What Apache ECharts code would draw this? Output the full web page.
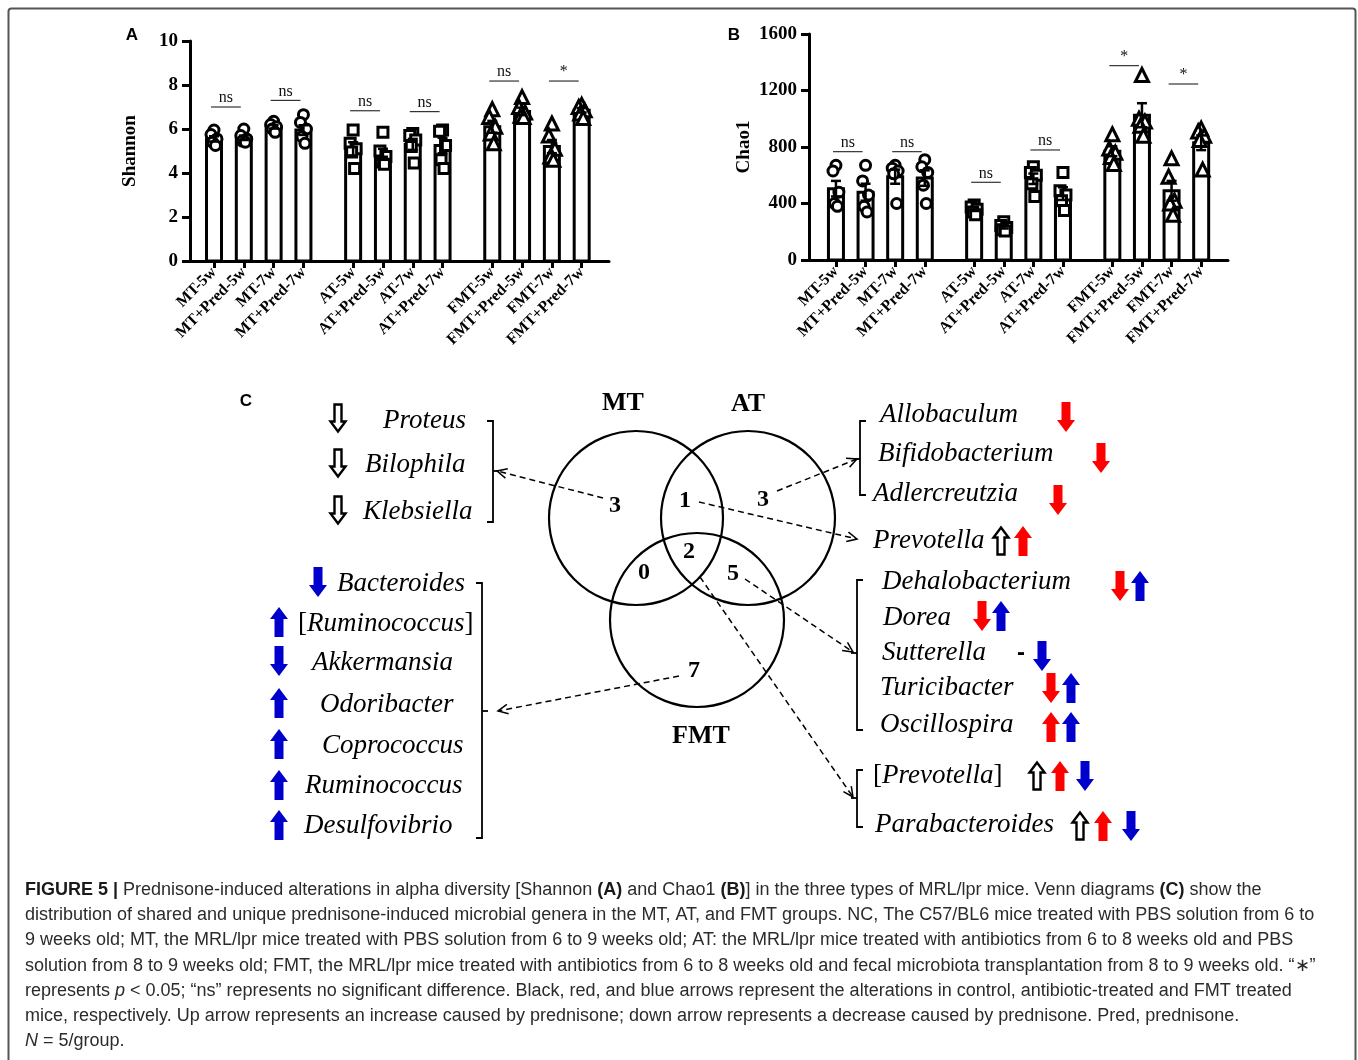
<!DOCTYPE html>
<html><head><meta charset="utf-8">
<script src="https://cdn.jsdelivr.net/npm/echarts@6/dist/echarts.min.js"></script>
<style>html,body{margin:0;padding:0;background:#fff}#c{width:1358px;height:1060px}</style>
</head><body><div id="c"></div>
<script>
// ---------------- DATA ----------------
const categories = ['MT-5w','MT+Pred-5w','MT-7w','MT+Pred-7w','AT-5w','AT+Pred-5w','AT-7w','AT+Pred-7w','FMT-5w','FMT+Pred-5w','FMT-7w','FMT+Pred-7w'];
const groupSymbols = ['circle','rect','triangle']; // MT, AT, FMT

const shannonTicks = [0,2,4,6,8,10];
const shannonMean = [5.55,5.6,6.1,5.95, 5.1,4.85,5.3,5.25, 6.1,6.8,5.2,6.85];
const shannonSem  = [0.12,0.1,0.08,0.22, 0.3,0.25,0.25,0.35, 0.27,0.17,0.3,0.1];
const shannonPoints = [
  [5.95,5.75,5.55,5.4,5.25],[6.0,5.7,5.55,5.45,5.4],[6.35,6.2,6.1,6.0,5.85],[6.65,6.3,6.0,5.65,5.35],
  [5.95,5.35,5.1,4.95,4.2],[5.85,5.0,4.75,4.5,4.4],[5.8,5.7,5.5,5.2,4.45],[5.95,5.9,5.25,4.6,4.2],
  [6.9,6.55,6.1,5.8,5.35],[7.45,7.0,6.75,6.6,6.55],[6.25,5.7,5.1,4.75,4.6],[7.1,7.0,6.85,6.7,6.5]
];
const shannonSigFirst = [0,2,4,6,8,10];
const shannonSigLevel = [7.0,7.3,6.83,6.79,8.18,8.18];
const shannonSigText  = ['ns','ns','ns','ns','ns','*'];

const chaoTicks = [0,400,800,1200,1600];
const chaoMean = [505,480,590,580, 360,235,575,470, 770,1025,490,830];
const chaoSem  = [55,60,50,55, 13,12,37,45, 35,85,70,52];
const chaoPoints = [
  [670,630,480,400,380],[670,560,460,380,340],[670,650,630,610,400],[710,660,620,530,400],
  [390,375,360,340,320],[270,245,230,215,205],[660,620,600,540,450],[620,490,460,420,350],
  [890,790,760,730,680],[1310,1000,980,950,880],[720,590,420,400,320],[930,910,880,850,640]
];
const chaoSigFirst = [0,2,4,6,8,10];
const chaoSigLevel = [767,767,550,779,1376,1246];
const chaoSigText  = ['ns','ns','ns','ns','*','*'];

// Venn (panel C)
const vennSets = ['MT','AT','FMT'];
const vennRegions = ['MT','MT∩AT','AT','MT∩AT∩FMT','MT∩FMT','AT∩FMT','FMT'];
const vennCounts = [3,1,3,2,0,5,7];
// change codes: colour k=control(black) r=antibiotic(red) b=FMT(blue); u=up d=down; '-' no change
const generaMT = ['Proteus','Bilophila','Klebsiella'];
const changesMT = [['kd'],['kd'],['kd']];
const generaFMT = ['Bacteroides','[Ruminococcus]','Akkermansia','Odoribacter','Coprococcus','Ruminococcus','Desulfovibrio'];
const changesFMT = [['bd'],['bu'],['bd'],['bu'],['bu'],['bu'],['bu']];
const generaAT = ['Allobaculum','Bifidobacterium','Adlercreutzia'];
const changesAT = [['rd'],['rd'],['rd']];
const generaMTAT = ['Prevotella'];
const changesMTAT = [['ku','ru']];
const generaATFMT = ['Dehalobacterium','Dorea','Sutterella','Turicibacter','Oscillospira'];
const changesATFMT = [['rd','bu'],['rd','bu'],['-','bd'],['rd','bu'],['ru','bu']];
const generaAll = ['[Prevotella]','Parabacteroides'];
const changesAll = [['ku','ru','bd'],['ku','ru','bd']];

const captionLines = [
  '{b|FIGURE 5 |} Prednisone-induced alterations in alpha diversity [Shannon {b|(A)} and Chao1 {b|(B)}] in the three types of MRL/lpr mice. Venn diagrams {b|(C)} show the',
  'distribution of shared and unique prednisone-induced microbial genera in the MT, AT, and FMT groups. NC, The C57/BL6 mice treated with PBS solution from 6 to',
  '9 weeks old; MT, the MRL/lpr mice treated with PBS solution from 6 to 9 weeks old; AT: the MRL/lpr mice treated with antibiotics from 6 to 8 weeks old and PBS',
  'solution from 8 to 9 weeks old; FMT, the MRL/lpr mice treated with antibiotics from 6 to 8 weeks old and fecal microbiota transplantation from 8 to 9 weeks old. “∗”',
  'represents {i|p} < 0.05; “ns” represents no significant difference. Black, red, and blue arrows represent the alterations in control, antibiotic-treated and FMT treated',
  'mice, respectively. Up arrow represents an increase caused by prednisone; down arrow represents a decrease caused by prednisone. Pred, prednisone.',
  '{i|N} = 5/group.'
];

// ---------------- LAYOUT ----------------
const GROUP_GAP = 0.667;
const pos = i => i + Math.floor(i / 4) * GROUP_GAP;
const positions = categories.map((c, i) => pos(i));
const jitter = [0, -0.1, 0.1, -0.05, 0.05];
const BAR_W = 15;
const SERIF = '"Liberation Serif","Times New Roman",serif';
const SANS = '"Liberation Sans",Arial,sans-serif';

function labelFor(v) {
  const i = positions.findIndex(p => Math.abs(p - v) < 1e-6);
  return i >= 0 ? categories[i] : '';
}

function panelSeries(gi, mean, sem, points, sigFirst, sigLevel, sigText) {
  const out = [];
  // bars (mean)
  out.push({
    type: 'custom', xAxisIndex: gi, yAxisIndex: gi, z: 2, silent: true,
    data: mean.map((m, i) => [pos(i), m]), encode: { x: 0, y: 1 },
    renderItem: (p, api) => {
      const t = api.coord([api.value(0), api.value(1)]), b = api.coord([api.value(0), 0]);
      return { type: 'rect', shape: { x: t[0] - BAR_W / 2, y: t[1], width: BAR_W, height: b[1] - t[1] },
        style: { fill: '#fff', stroke: '#000', lineWidth: 3 } };
    }
  });
  for (let g = 0; g < 3; g++) {
    const d = [];
    for (let i = g * 4; i < g * 4 + 4; i++) points[i].forEach((v, j) => d.push([pos(i) + jitter[j], v]));
    out.push({
      type: 'scatter', xAxisIndex: gi, yAxisIndex: gi, z: 3, data: d,
      symbol: groupSymbols[g], symbolSize: g === 2 ? 13 : 10,
      itemStyle: { color: '#fff', borderColor: '#000', borderWidth: 3, opacity: 1 }, silent: true
    });
  }
  out.push({
    type: 'custom', xAxisIndex: gi, yAxisIndex: gi, z: 4, silent: true,
    data: mean.map((m, i) => [pos(i), m, sem[i]]), encode: { x: 0, y: 1 },
    renderItem: (p, api) => {
      const x = api.value(0), m = api.value(1), s = api.value(2);
      const t = api.coord([x, m + s]), b = api.coord([x, m - s]);
      const st = { stroke: '#000', lineWidth: 2.5 };
      return { type: 'group', children: [
        { type: 'line', shape: { x1: t[0], y1: t[1], x2: b[0], y2: b[1] }, style: st },
        { type: 'line', shape: { x1: t[0] - 5, y1: t[1], x2: t[0] + 5, y2: t[1] }, style: st },
        { type: 'line', shape: { x1: b[0] - 5, y1: b[1], x2: b[0] + 5, y2: b[1] }, style: st }
      ]};
    }
  });
  out.push({
    type: 'custom', xAxisIndex: gi, yAxisIndex: gi, z: 5, silent: true,
    data: sigFirst.map((f, k) => [pos(f) - 0.1, pos(f + 1) - 0.1, sigLevel[k], k]),
    encode: { x: [0, 1], y: 2 },
    renderItem: (p, api) => {
      const a = api.coord([api.value(0), api.value(2)]), b = api.coord([api.value(1), api.value(2)]);
      const k = api.value(3);
      return { type: 'group', children: [
        { type: 'line', shape: { x1: a[0], y1: a[1], x2: b[0], y2: b[1] }, style: { stroke: '#333', lineWidth: 1.2 } },
        { type: 'text', x: (a[0] + b[0]) / 2, y: a[1] - 9, style: { text: sigText[k], font: '16px ' + SERIF, fill: '#111', align: 'center', verticalAlign: 'middle', textAlign: 'center', textVerticalAlign: 'middle' } }
      ]};
    }
  });
  return out;
}

function xAxisCfg(gi, min, max) {
  return {
    type: 'value', gridIndex: gi, min, max,
    axisLine: { onZero: false, lineStyle: { color: '#000', width: 3 } },
    axisTick: { customValues: positions, length: 7, lineStyle: { color: '#000', width: 3 } },
    axisLabel: { customValues: positions, formatter: labelFor, rotate: 45, margin: 9,
      color: '#000', fontFamily: SERIF, fontWeight: 'bold', fontSize: 16 },
    splitLine: { show: false }
  };
}
function yAxisCfg(gi, max, interval, name, gap) {
  return {
    type: 'value', gridIndex: gi, min: 0, max, interval,
    name, nameLocation: 'middle', nameGap: gap, nameRotate: 90,
    nameTextStyle: { color: '#000', fontFamily: SERIF, fontWeight: 'bold', fontSize: 19 },
    axisLine: { show: true, onZero: false, lineStyle: { color: '#000', width: 3 } },
    axisTick: { show: true, length: 8, lineStyle: { color: '#000', width: 3 } },
    axisLabel: { color: '#000', fontFamily: SERIF, fontWeight: 'bold', fontSize: 19, margin: 12, formatter: v => String(v) },
    splitLine: { show: false }
  };
}

// ---------- Panel C graphic helpers ----------
const COLORS = { k: '#000', r: '#ff0000', b: '#0000cc' };
function blockArrow(cx, cy, code) {
  const hollow = code[0] === 'k';
  const H = hollow ? 27 : 30, W = hollow ? 15 : 18, S = hollow ? 7 : 9, HH = hollow ? 10 : 12;
  const t = cy - H / 2, b = cy + H / 2;
  let pts;
  if (code[1] === 'd') pts = [[cx - S/2, t], [cx + S/2, t], [cx + S/2, b - HH], [cx + W/2, b - HH], [cx, b], [cx - W/2, b - HH], [cx - S/2, b - HH]];
  else pts = [[cx - S/2, b], [cx + S/2, b], [cx + S/2, t + HH], [cx + W/2, t + HH], [cx, t], [cx - W/2, t + HH], [cx - S/2, t + HH]];
  return { type: 'polygon', shape: { points: pts },
    style: hollow ? { fill: '#fff', stroke: '#000', lineWidth: 2.4 } : { fill: COLORS[code[0]] } };
}
function txt(x, y, text, font, align, extra) {
  return { type: 'text', x, y, style: Object.assign({ text, font, fill: '#000', align: align || 'left', verticalAlign: 'middle', textAlign: align || 'left', textVerticalAlign: 'middle' }, extra || {}) };
}
function dashArrow(x1, y1, x2, y2) {
  const ang = Math.atan2(y2 - y1, x2 - x1), L = 11, a = 0.45;
  return [
    { type: 'line', shape: { x1, y1, x2, y2 }, style: { stroke: '#000', lineWidth: 1.5, lineDash: [6, 4] } },
    { type: 'polyline', shape: { points: [[x2 - L * Math.cos(ang - a), y2 - L * Math.sin(ang - a)], [x2, y2], [x2 - L * Math.cos(ang + a), y2 - L * Math.sin(ang + a)]] },
      style: { stroke: '#000', lineWidth: 1.5, fill: null } }
  ];
}
function bracket(x, yt, yb, ym, side) { // side -1: ']' ; +1: '['
  const st = { stroke: '#000', lineWidth: 1.8, fill: null };
  const tk = 6 * (side > 0 ? 1 : -1);
  return [
    { type: 'polyline', shape: { points: [[x + tk, yt], [x, yt], [x, yb], [x + tk, yb]] }, style: st },
    { type: 'line', shape: { x1: x, y1: ym, x2: x - tk, y2: ym }, style: st }
  ];
}
function geneText(x, y, name) {
  const m = name.match(/^\[(.*)\]$/);
  if (m) return txt(x, y, '{n|[}{i|' + m[1] + '}{n|]}', 'italic 27px ' + SERIF, 'left',
    { rich: { n: { font: '27px ' + SERIF, fill: '#000' }, i: { font: 'italic 27px ' + SERIF, fill: '#000' } } });
  return txt(x, y, name, 'italic 27px ' + SERIF);
}

// layout rows: [textLeftX, textY, arrowY, arrowXs]
const layoutMT = [[383, 421, 418, [338]], [365, 465, 463, [338]], [363, 512, 510, [338]]];
const layoutFMT = [[337, 584, 582, [318]], [298, 624, 622, [279]], [312, 663, 661, [279]], [320, 705, 703, [279]], [322, 746, 744, [279]], [305, 786, 785, [279]], [304, 826, 825, [279]]];
const layoutAT = [[880, 415, 417, [1066]], [878, 454, 458, [1101]], [873, 494, 500, [1058]]];
const layoutMTAT = [[873, 541, 541, [1001, 1023]]];
const layoutATFMT = [[882, 582, 586, [1120, 1140]], [883, 618, 616, [982, 1001]], [882, 653, 656, [1021, 1042]], [880, 688, 688, [1051, 1071]], [880, 725, 727, [1051, 1071]]];
const layoutAll = [[873, 776, 776, [1037, 1060, 1085]], [875, 825, 826, [1080, 1103, 1131]]];

const G = [];
G.push({ type: 'rect', shape: { x: 8.5, y: 8.5, width: 1347, height: 1120, r: 3 }, style: { fill: 'transparent', stroke: '#555', lineWidth: 2 }, z: 0 });
G.push(txt(132, 35, 'A', 'bold 17px ' + SANS, 'center'));
G.push(txt(734, 35, 'B', 'bold 17px ' + SANS, 'center'));
G.push(txt(246, 401, 'C', 'bold 17px ' + SANS, 'center'));
const vennCircles = [[636, 518, 87], [748, 518, 87], [697, 620, 87]];
vennCircles.forEach(c => G.push({ type: 'circle', shape: { cx: c[0], cy: c[1], r: c[2] }, style: { fill: 'transparent', stroke: '#000', lineWidth: 2.2 } }));
const vennSetPos = [[623, 403], [748, 404], [701, 736]];
vennSets.forEach((s, i) => G.push(txt(vennSetPos[i][0], vennSetPos[i][1], s, 'bold 26px ' + SERIF, 'center')));
const vennCountPos = [[615, 506], [685, 501], [763, 500], [689, 552], [644, 573], [733, 574], [694, 671]];
vennCounts.forEach((c, i) => G.push(txt(vennCountPos[i][0], vennCountPos[i][1], String(c), 'bold 24px ' + SERIF, 'center')));
[[603, 498, 497, 471], [777, 491, 857, 459], [699, 502, 857, 539], [745, 579, 853, 652], [700, 577, 853, 797], [679, 676, 498, 711]]
  .forEach(a => dashArrow(...a).forEach(e => G.push(e)));
[[493, 421, 522, 471, -1], [482, 583, 838, 711, -1], [860, 421, 495, 459, 1], [857, 580, 730, 653, 1], [857, 770, 827, 798, 1]]
  .forEach(b => bracket(...b).forEach(e => G.push(e)));
function addList(names, changes, layout) {
  names.forEach((n, i) => {
    const [tx, ty, ay, axs] = layout[i];
    G.push(geneText(tx, ty, n));
    changes[i].forEach((code, k) => {
      if (code === '-') G.push(txt(axs[k], ay - 3, '-', 'bold 24px ' + SANS, 'center'));
      else G.push(blockArrow(axs[k], ay, code));
    });
  });
}
addList(generaMT, changesMT, layoutMT);
addList(generaFMT, changesFMT, layoutFMT);
addList(generaAT, changesAT, layoutAT);
addList(generaMTAT, changesMTAT, layoutMTAT);
addList(generaATFMT, changesATFMT, layoutATFMT);
addList(generaAll, changesAll, layoutAll);
captionLines.forEach((line, i) => {
  G.push(txt(25, 890 + i * 25.2, line, '18px ' + SANS, 'left', {
    fill: '#2b2b2b',
    rich: { b: { font: 'bold 18px ' + SANS, fill: '#1a1a1a' }, i: { font: 'italic 18px ' + SANS, fill: '#2b2b2b' } }
  }));
});

const chart = echarts.init(document.getElementById('c'), null, { renderer: 'canvas' });
chart.setOption({
  animation: false,
  backgroundColor: '#fff',
  grid: [
    { left: 190, top: 41, width: 419, height: 220 },
    { left: 809, top: 34, width: 419, height: 226 }
  ],
  xAxis: [xAxisCfg(0, -0.805, 13.25), xAxisCfg(1, -0.91, 13.24)],
  yAxis: [yAxisCfg(0, 10, 2, 'Shannon', 50), yAxisCfg(1, 1600, 400, 'Chao1', 55)],
  series: [
    ...panelSeries(0, shannonMean, shannonSem, shannonPoints, shannonSigFirst, shannonSigLevel, shannonSigText),
    ...panelSeries(1, chaoMean, chaoSem, chaoPoints, chaoSigFirst, chaoSigLevel, chaoSigText)
  ],
  graphic: G
});
</script></body></html>
